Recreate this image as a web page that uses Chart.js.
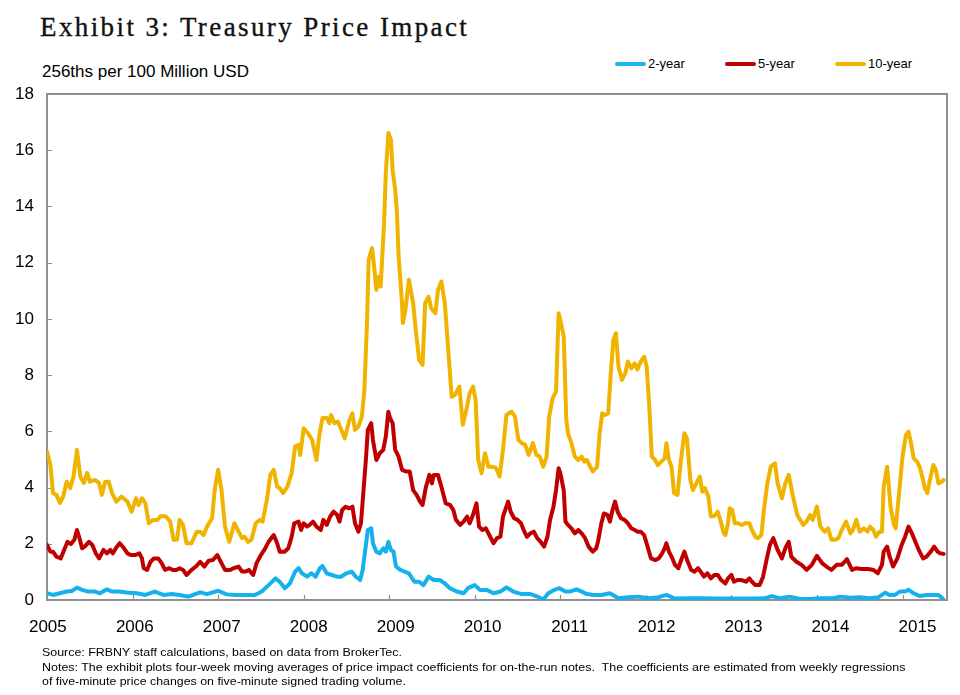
<!DOCTYPE html>
<html>
<head>
<meta charset="utf-8">
<script src="https://cdn.jsdelivr.net/npm/chart.js@4/dist/chart.umd.min.js"></script>
<style>
  html, body { margin: 0; padding: 0; background: #fff; }
  body { width: 960px; height: 695px; position: relative; overflow: hidden; font-family: "Liberation Sans", Arial, sans-serif; }
  #chart { position: absolute; left: 0; top: 0; }
  .title { position: absolute; left: 40px; top: 12px; font-family: "Liberation Serif", "DejaVu Serif", serif; font-size: 27px; letter-spacing: 2.4px; color: #111; white-space: nowrap; -webkit-text-stroke: 0.35px #111; }
  .unit { position: absolute; left: 42px; top: 62px; font-size: 17px; color: #000; white-space: nowrap; }
  .legend { position: absolute; top: 56px; font-size: 13px; color: #000; white-space: nowrap; }
  .legend span.swatch { display: inline-block; width: 31px; height: 4px; border-radius: 2px; vertical-align: middle; margin-right: 2px; position: relative; top: -1px; }
  .note { position: absolute; left: 42px; font-size: 11.6px; color: #000; white-space: nowrap; transform-origin: 0 0; }
</style>
</head>
<body>
<div class="title">Exhibit 3: Treasury Price Impact</div>
<div class="unit">256ths per 100 Million USD</div>
<div class="legend" style="left:615px"><span class="swatch" style="background:#1cb4ec"></span>2-year</div>
<div class="legend" style="left:725px"><span class="swatch" style="background:#c00000"></span>5-year</div>
<div class="legend" style="left:835px"><span class="swatch" style="background:#f0b400"></span>10-year</div>
<canvas id="chart" width="960" height="695"></canvas>
<div class="note" style="top:645px" data-w="360">Source: FRBNY staff calculations, based on data from BrokerTec.</div>
<div class="note" style="top:659.5px" data-w="863">Notes: The exhibit plots four-week moving averages of price impact coefficients for on-the-run notes.&nbsp; The coefficients are estimated from weekly regressions</div>
<div class="note" style="top:674px" data-w="364">of five-minute price changes on five-minute signed trading volume.</div>
<script>
// 2-year note price impact (decimal years / 256ths per $100mm)
const twoYearDates = [2005.00, 2005.07, 2005.15, 2005.23, 2005.29, 2005.35, 2005.41, 2005.48, 2005.56, 2005.62, 2005.70, 2005.76, 2005.85, 2005.93,
  2006.05, 2006.15, 2006.26, 2006.36, 2006.46, 2006.55, 2006.65, 2006.79, 2006.87, 2007.00, 2007.10, 2007.20, 2007.31, 2007.43,
  2007.51, 2007.59, 2007.67, 2007.72, 2007.78, 2007.84, 2007.90, 2007.94, 2007.98, 2008.04, 2008.09, 2008.14, 2008.19, 2008.22,
  2008.27, 2008.33, 2008.39, 2008.44, 2008.50, 2008.56, 2008.61, 2008.66, 2008.69, 2008.72, 2008.75, 2008.79, 2008.81, 2008.85,
  2008.89, 2008.93, 2008.96, 2008.99, 2009.02, 2009.05, 2009.08, 2009.13, 2009.18, 2009.23, 2009.28, 2009.30, 2009.35, 2009.40,
  2009.46, 2009.52, 2009.59, 2009.65, 2009.71, 2009.79, 2009.87, 2009.92, 2010.00, 2010.06, 2010.14, 2010.22, 2010.30, 2010.37,
  2010.45, 2010.55, 2010.65, 2010.72, 2010.80, 2010.86, 2010.93, 2010.99, 2011.06, 2011.11, 2011.19, 2011.25, 2011.31, 2011.39,
  2011.48, 2011.58, 2011.68, 2011.80, 2011.91, 2012.03, 2012.15, 2012.24, 2012.34, 2012.50, 2012.65, 2012.81, 2012.96, 2013.12,
  2013.28, 2013.39, 2013.47, 2013.57, 2013.68, 2013.80, 2013.92, 2014.04, 2014.19, 2014.27, 2014.39, 2014.50, 2014.62, 2014.72,
  2014.80, 2014.85, 2014.91, 2014.97, 2015.03, 2015.07, 2015.13, 2015.20, 2015.28, 2015.36, 2015.42, 2015.47];
const twoYearValues = [0.24, 0.18, 0.24, 0.30, 0.32, 0.44, 0.36, 0.30, 0.30, 0.24, 0.38, 0.30, 0.30, 0.27,
  0.24, 0.18, 0.30, 0.18, 0.21, 0.18, 0.12, 0.27, 0.21, 0.33, 0.20, 0.18, 0.18, 0.18,
  0.30, 0.53, 0.77, 0.65, 0.42, 0.59, 1.01, 1.13, 0.95, 0.83, 0.95, 0.83, 1.13, 1.21,
  0.95, 0.89, 0.83, 0.83, 0.95, 1.01, 0.83, 0.71, 1.07, 1.78, 2.49, 2.55, 2.02, 1.72,
  1.66, 1.84, 1.72, 2.07, 1.78, 1.72, 1.19, 1.07, 1.01, 0.95, 0.71, 0.65, 0.65, 0.53,
  0.83, 0.71, 0.71, 0.59, 0.42, 0.30, 0.24, 0.42, 0.53, 0.36, 0.36, 0.24, 0.30, 0.45,
  0.30, 0.21, 0.21, 0.14, 0.02, 0.24, 0.36, 0.42, 0.30, 0.30, 0.38, 0.30, 0.21, 0.18,
  0.18, 0.24, 0.06, 0.10, 0.12, 0.06, 0.10, 0.18, 0.05, 0.06, 0.06, 0.05, 0.05, 0.05,
  0.05, 0.06, 0.14, 0.06, 0.12, 0.04, 0.04, 0.06, 0.06, 0.12, 0.08, 0.10, 0.06, 0.10,
  0.26, 0.18, 0.18, 0.30, 0.30, 0.36, 0.24, 0.14, 0.18, 0.18, 0.18, 0.05];

// 5-year note price impact
const fiveYearDates = [2005.00, 2005.04, 2005.07, 2005.11, 2005.16, 2005.20, 2005.24, 2005.28, 2005.32, 2005.35, 2005.38, 2005.41, 2005.44, 2005.49,
  2005.53, 2005.57, 2005.61, 2005.66, 2005.70, 2005.74, 2005.77, 2005.81, 2005.85, 2005.90, 2005.94, 2005.98, 2006.03, 2006.08,
  2006.11, 2006.13, 2006.17, 2006.21, 2006.25, 2006.30, 2006.34, 2006.38, 2006.43, 2006.47, 2006.51, 2006.55, 2006.59, 2006.63,
  2006.69, 2006.74, 2006.79, 2006.84, 2006.89, 2006.94, 2006.99, 2007.04, 2007.08, 2007.14, 2007.18, 2007.24, 2007.28, 2007.32,
  2007.36, 2007.41, 2007.45, 2007.50, 2007.54, 2007.59, 2007.65, 2007.69, 2007.72, 2007.78, 2007.82, 2007.86, 2007.89, 2007.94,
  2007.97, 2008.00, 2008.04, 2008.07, 2008.11, 2008.15, 2008.20, 2008.23, 2008.27, 2008.31, 2008.35, 2008.39, 2008.42, 2008.45,
  2008.49, 2008.53, 2008.57, 2008.60, 2008.64, 2008.67, 2008.70, 2008.73, 2008.75, 2008.79, 2008.81, 2008.85, 2008.89, 2008.93,
  2008.96, 2008.99, 2009.01, 2009.04, 2009.07, 2009.11, 2009.15, 2009.20, 2009.24, 2009.28, 2009.32, 2009.36, 2009.39, 2009.43,
  2009.47, 2009.50, 2009.52, 2009.57, 2009.61, 2009.66, 2009.71, 2009.75, 2009.78, 2009.83, 2009.87, 2009.91, 2009.94, 2009.98,
  2010.02, 2010.05, 2010.09, 2010.13, 2010.18, 2010.22, 2010.26, 2010.30, 2010.33, 2010.37, 2010.39, 2010.42, 2010.46, 2010.50,
  2010.54, 2010.58, 2010.61, 2010.65, 2010.69, 2010.73, 2010.77, 2010.81, 2010.85, 2010.88, 2010.92, 2010.95, 2010.98, 2011.00,
  2011.04, 2011.06, 2011.09, 2011.13, 2011.17, 2011.21, 2011.25, 2011.29, 2011.33, 2011.38, 2011.42, 2011.44, 2011.48, 2011.51,
  2011.55, 2011.58, 2011.61, 2011.64, 2011.67, 2011.71, 2011.75, 2011.79, 2011.83, 2011.87, 2011.90, 2011.94, 2011.98, 2012.02,
  2012.06, 2012.11, 2012.15, 2012.19, 2012.22, 2012.24, 2012.27, 2012.31, 2012.34, 2012.38, 2012.42, 2012.45, 2012.49, 2012.53,
  2012.57, 2012.61, 2012.64, 2012.68, 2012.72, 2012.76, 2012.80, 2012.84, 2012.88, 2012.93, 2012.96, 2013.00, 2013.03, 2013.07,
  2013.12, 2013.17, 2013.21, 2013.24, 2013.28, 2013.33, 2013.37, 2013.41, 2013.45, 2013.49, 2013.54, 2013.59, 2013.63, 2013.67,
  2013.70, 2013.76, 2013.82, 2013.88, 2013.94, 2014.00, 2014.06, 2014.11, 2014.17, 2014.23, 2014.29, 2014.35, 2014.41, 2014.46,
  2014.52, 2014.60, 2014.66, 2014.71, 2014.76, 2014.78, 2014.82, 2014.85, 2014.89, 2014.94, 2014.99, 2015.03, 2015.07, 2015.11,
  2015.15, 2015.19, 2015.24, 2015.28, 2015.33, 2015.37, 2015.41, 2015.44, 2015.48];
const fiveYearValues = [1.96, 1.72, 1.72, 1.54, 1.48, 1.78, 2.07, 1.99, 2.14, 2.49, 2.20, 1.84, 1.90, 2.07,
  1.96, 1.66, 1.48, 1.78, 1.66, 1.78, 1.66, 1.87, 2.02, 1.84, 1.66, 1.60, 1.60, 1.66,
  1.48, 1.13, 1.07, 1.36, 1.48, 1.48, 1.31, 1.07, 1.13, 1.07, 1.07, 1.13, 1.07, 0.89,
  1.07, 1.19, 1.36, 1.19, 1.40, 1.42, 1.60, 1.31, 1.07, 1.07, 1.13, 1.19, 1.01, 1.01,
  1.07, 0.89, 1.31, 1.60, 1.78, 2.07, 2.31, 2.02, 1.72, 1.72, 1.84, 2.25, 2.73, 2.79,
  2.49, 2.73, 2.61, 2.67, 2.79, 2.61, 2.49, 2.85, 2.67, 2.97, 3.14, 3.03, 2.79, 3.20,
  3.32, 3.26, 3.32, 2.73, 2.43, 2.73, 3.91, 5.10, 6.05, 6.29, 5.69, 4.98, 5.22, 5.34,
  5.81, 6.70, 6.47, 6.29, 5.34, 5.10, 4.63, 4.57, 4.57, 3.91, 3.74, 3.50, 3.38, 4.03,
  4.45, 4.15, 4.45, 4.45, 4.03, 3.44, 3.38, 3.20, 2.85, 2.67, 2.79, 2.97, 2.73, 3.03,
  3.44, 2.61, 2.49, 2.55, 2.25, 2.02, 2.20, 2.25, 2.97, 3.32, 3.50, 3.14, 2.91, 2.85,
  2.73, 2.43, 2.25, 2.37, 2.43, 2.20, 2.07, 1.90, 2.25, 2.85, 3.32, 3.91, 4.69, 4.51,
  3.91, 2.79, 2.67, 2.55, 2.37, 2.49, 2.37, 2.20, 1.90, 1.72, 1.84, 2.07, 2.73, 3.08,
  3.03, 2.79, 3.20, 3.50, 3.14, 2.91, 2.85, 2.73, 2.55, 2.49, 2.43, 2.43, 2.31, 1.90,
  1.48, 1.42, 1.48, 1.66, 1.84, 2.02, 1.72, 1.48, 1.25, 1.13, 1.48, 1.72, 1.36, 1.07,
  1.01, 1.13, 1.01, 0.83, 0.95, 0.77, 0.89, 0.89, 0.71, 0.59, 0.77, 0.89, 0.65, 0.71,
  0.71, 0.65, 0.77, 0.65, 0.53, 0.53, 0.83, 1.42, 1.96, 2.20, 1.78, 1.48, 1.84, 2.07,
  1.54, 1.36, 1.25, 1.07, 1.25, 1.57, 1.31, 1.19, 1.07, 1.25, 1.25, 1.45, 1.07, 1.13,
  1.10, 1.10, 1.07, 0.95, 1.25, 1.72, 1.90, 1.54, 1.19, 1.48, 1.96, 2.25, 2.61, 2.37,
  2.07, 1.78, 1.48, 1.54, 1.72, 1.90, 1.72, 1.66, 1.64];

// 10-year note price impact
const tenYearDates = [2005.00, 2005.04, 2005.07, 2005.11, 2005.15, 2005.19, 2005.23, 2005.27, 2005.31, 2005.35, 2005.39, 2005.43, 2005.47, 2005.50,
  2005.56, 2005.61, 2005.64, 2005.68, 2005.72, 2005.76, 2005.81, 2005.87, 2005.94, 2005.99, 2006.04, 2006.07, 2006.11, 2006.15,
  2006.19, 2006.24, 2006.29, 2006.33, 2006.39, 2006.44, 2006.48, 2006.52, 2006.55, 2006.59, 2006.63, 2006.69, 2006.75, 2006.79,
  2006.83, 2006.87, 2006.93, 2006.96, 2007.00, 2007.04, 2007.08, 2007.13, 2007.19, 2007.24, 2007.28, 2007.31, 2007.35, 2007.39,
  2007.44, 2007.49, 2007.52, 2007.57, 2007.61, 2007.65, 2007.69, 2007.72, 2007.76, 2007.81, 2007.86, 2007.90, 2007.94, 2007.96,
  2008.00, 2008.05, 2008.10, 2008.15, 2008.18, 2008.22, 2008.27, 2008.30, 2008.32, 2008.36, 2008.40, 2008.44, 2008.48, 2008.53,
  2008.57, 2008.60, 2008.64, 2008.68, 2008.71, 2008.74, 2008.76, 2008.80, 2008.83, 2008.85, 2008.88, 2008.90, 2008.94, 2008.96,
  2008.99, 2009.02, 2009.04, 2009.07, 2009.09, 2009.11, 2009.15, 2009.16, 2009.19, 2009.23, 2009.28, 2009.31, 2009.35, 2009.39,
  2009.42, 2009.46, 2009.49, 2009.54, 2009.57, 2009.61, 2009.65, 2009.69, 2009.73, 2009.77, 2009.82, 2009.86, 2009.91, 2009.94,
  2009.98, 2010.01, 2010.04, 2010.08, 2010.12, 2010.16, 2010.21, 2010.25, 2010.29, 2010.33, 2010.37, 2010.43, 2010.47, 2010.51,
  2010.55, 2010.59, 2010.63, 2010.68, 2010.72, 2010.76, 2010.80, 2010.84, 2010.87, 2010.91, 2010.95, 2010.98, 2011.00, 2011.04,
  2011.07, 2011.09, 2011.13, 2011.17, 2011.21, 2011.25, 2011.28, 2011.31, 2011.35, 2011.38, 2011.43, 2011.46, 2011.49, 2011.52,
  2011.56, 2011.59, 2011.62, 2011.65, 2011.68, 2011.72, 2011.76, 2011.79, 2011.83, 2011.87, 2011.90, 2011.94, 2011.98, 2012.01,
  2012.04, 2012.07, 2012.11, 2012.14, 2012.18, 2012.22, 2012.24, 2012.27, 2012.30, 2012.33, 2012.37, 2012.41, 2012.45, 2012.48,
  2012.52, 2012.55, 2012.59, 2012.63, 2012.66, 2012.69, 2012.73, 2012.76, 2012.80, 2012.84, 2012.87, 2012.91, 2012.93, 2012.96,
  2012.98, 2013.01, 2013.04, 2013.08, 2013.12, 2013.16, 2013.21, 2013.24, 2013.28, 2013.31, 2013.35, 2013.38, 2013.42, 2013.46,
  2013.48, 2013.51, 2013.54, 2013.59, 2013.63, 2013.67, 2013.72, 2013.77, 2013.84, 2013.88, 2013.92, 2013.95, 2014.00, 2014.04,
  2014.09, 2014.13, 2014.17, 2014.21, 2014.25, 2014.29, 2014.34, 2014.39, 2014.42, 2014.46, 2014.50, 2014.55, 2014.59, 2014.62,
  2014.66, 2014.69, 2014.73, 2014.76, 2014.78, 2014.82, 2014.83, 2014.86, 2014.90, 2014.92, 2014.96, 2015.00, 2015.04, 2015.07,
  2015.10, 2015.13, 2015.17, 2015.20, 2015.24, 2015.26, 2015.29, 2015.32, 2015.36, 2015.39, 2015.42, 2015.46, 2015.48];
const tenYearValues = [5.28, 4.80, 3.80, 3.74, 3.45, 3.68, 4.21, 3.98, 4.39, 5.34, 4.39, 4.16, 4.52, 4.21,
  4.27, 4.16, 3.74, 4.21, 4.21, 3.80, 3.50, 3.68, 3.50, 3.14, 3.62, 3.38, 3.62, 3.44,
  2.73, 2.85, 2.85, 2.99, 2.97, 2.79, 2.14, 2.14, 2.85, 2.67, 2.02, 2.02, 2.43, 2.43,
  2.31, 2.61, 2.91, 3.91, 4.63, 3.91, 2.61, 2.07, 2.73, 2.43, 2.20, 2.25, 2.07, 2.14,
  2.73, 2.85, 2.79, 3.56, 4.45, 4.63, 4.03, 3.98, 3.80, 4.03, 4.51, 5.46, 5.52, 5.16,
  6.11, 5.93, 5.69, 4.98, 5.81, 6.47, 6.47, 6.29, 6.58, 6.29, 6.35, 6.05, 5.75, 6.35,
  6.64, 6.05, 6.17, 6.52, 7.47, 9.85, 12.10, 12.52, 11.68, 11.03, 11.50, 11.15, 13.40, 15.18,
  16.61, 16.37, 15.30, 14.59, 13.82, 12.22, 10.56, 9.85, 10.32, 11.39, 10.56, 9.61, 8.54, 8.36,
  10.56, 10.79, 10.38, 10.20, 11.03, 11.33, 10.56, 8.90, 7.23, 7.30, 7.59, 6.23, 6.88, 7.36,
  7.59, 7.12, 4.98, 4.51, 5.22, 4.74, 4.74, 4.69, 4.39, 5.34, 6.58, 6.70, 6.52, 5.69,
  5.58, 5.52, 5.16, 5.58, 5.16, 5.10, 4.74, 5.10, 6.52, 7.18, 7.41, 10.20, 9.96, 9.37,
  6.41, 5.93, 5.58, 5.10, 4.98, 5.10, 4.92, 4.98, 4.74, 4.57, 4.74, 5.93, 6.64, 6.58,
  6.64, 8.07, 9.25, 9.49, 8.30, 7.83, 8.07, 8.48, 8.24, 8.42, 8.20, 8.48, 8.66, 8.30,
  6.88, 5.10, 4.98, 4.80, 4.92, 5.04, 5.58, 4.98, 4.74, 3.80, 3.74, 4.98, 5.93, 5.75,
  4.27, 3.91, 4.15, 4.39, 3.85, 3.98, 3.68, 2.97, 2.99, 3.14, 2.85, 2.37, 2.31, 2.73,
  3.26, 3.20, 2.73, 2.73, 2.67, 2.73, 2.73, 2.49, 2.25, 2.20, 2.31, 3.20, 4.15, 4.74,
  4.80, 4.86, 4.15, 3.62, 4.15, 4.45, 3.68, 3.02, 2.67, 2.80, 3.02, 2.85, 3.32, 2.61,
  2.43, 2.55, 2.14, 2.14, 2.20, 2.49, 2.79, 2.37, 2.49, 2.85, 2.43, 2.55, 2.43, 2.61,
  2.49, 2.25, 2.43, 2.43, 4.03, 4.74, 4.74, 3.32, 2.67, 2.55, 3.80, 5.10, 5.87, 5.99,
  5.58, 5.04, 4.92, 4.74, 4.27, 3.98, 3.80, 4.27, 4.80, 4.63, 4.15, 4.21, 4.27];

const yearTicks = [2005, 2006, 2007, 2008, 2009, 2010, 2011, 2012, 2013, 2014, 2015];
const xMin = 2005;
const xMax = 2015.52;
// the printed year labels run on a slightly wider spacing than the tick marks
const labelMin = 2004.99;
const labelMax = 2015.34;
const yMax = 18;

function toPoints(dates, values) {
  return dates.map((d, i) => ({ x: d, y: values[i] }));
}

// plot frame and inward tick marks, drawn under the lines
const framePlugin = {
  id: 'frame',
  beforeDatasetsDraw(chart) {
    const { ctx, chartArea: a, scales } = chart;
    ctx.save();
    ctx.strokeStyle = '#8f8f8f';
    ctx.lineWidth = 2;
    ctx.strokeRect(a.left, a.top, a.right - a.left, a.bottom - a.top);
    ctx.lineWidth = 1.2;
    ctx.beginPath();
    scales.y.ticks.forEach((t) => {
      const py = Math.round(scales.y.getPixelForValue(t.value)) + 0.5;
      ctx.moveTo(a.left, py);
      ctx.lineTo(a.left + 5, py);
    });
    yearTicks.forEach((yr) => {
      const px = Math.round(scales.x.getPixelForValue(yr)) + 0.5;
      ctx.moveTo(px, a.bottom);
      ctx.lineTo(px, a.bottom - 5);
    });
    ctx.stroke();
    ctx.restore();
  },
};

const lineStyle = { borderWidth: 4, pointRadius: 0, tension: 0, fill: false, borderJoinStyle: 'round', borderCapStyle: 'round' };
const tickFont = { family: 'Liberation Sans', size: 17 };

new Chart(document.getElementById('chart'), {
  type: 'line',
  data: {
    datasets: [
      { label: '2-year', data: toPoints(twoYearDates, twoYearValues), borderColor: '#14b1ec', ...lineStyle },
      { label: '5-year', data: toPoints(fiveYearDates, fiveYearValues), borderColor: '#c00000', ...lineStyle },
      { label: '10-year', data: toPoints(tenYearDates, tenYearValues), borderColor: '#f0b400', ...lineStyle },
    ],
  },
  options: {
    responsive: false,
    animation: false,
    events: [],
    layout: { padding: { top: 94, right: 13, bottom: 55, left: 7 } },
    plugins: { legend: { display: false }, tooltip: { enabled: false } },
    scales: {
      x: {
        type: 'linear',
        min: xMin,
        max: xMax,
        afterBuildTicks(scale) { scale.ticks = yearTicks.map((v) => ({ value: v })); },
        afterFit(scale) { scale.height = 0; },
        grid: { display: false, drawTicks: false },
        border: { display: false },
        ticks: { display: false },
      },
      xLabels: {
        type: 'linear',
        position: 'bottom',
        min: labelMin,
        max: labelMax,
        afterBuildTicks(scale) { scale.ticks = yearTicks.map((v) => ({ value: v })); },
        afterFit(scale) { scale.height = 40; },
        grid: { display: false, drawTicks: false },
        border: { display: false },
        ticks: {
          autoSkip: false,
          maxRotation: 0,
          padding: 17,
          color: '#000',
          font: tickFont,
          callback: (v) => String(v),
        },
      },
      y: {
        min: 0,
        max: yMax,
        afterFit(scale) { scale.width = 40; },
        grid: { display: false, drawTicks: false },
        border: { display: false },
        ticks: {
          stepSize: 2,
          padding: 13,
          color: '#000',
          font: tickFont,
        },
      },
    },
  },
  plugins: [framePlugin],
});

// stretch the footnote lines to the printed widths
document.querySelectorAll('.note').forEach((el) => {
  const target = Number(el.dataset.w);
  el.style.transform = 'scaleX(' + (target / el.offsetWidth).toFixed(4) + ')';
});
</script>
</body>
</html>
